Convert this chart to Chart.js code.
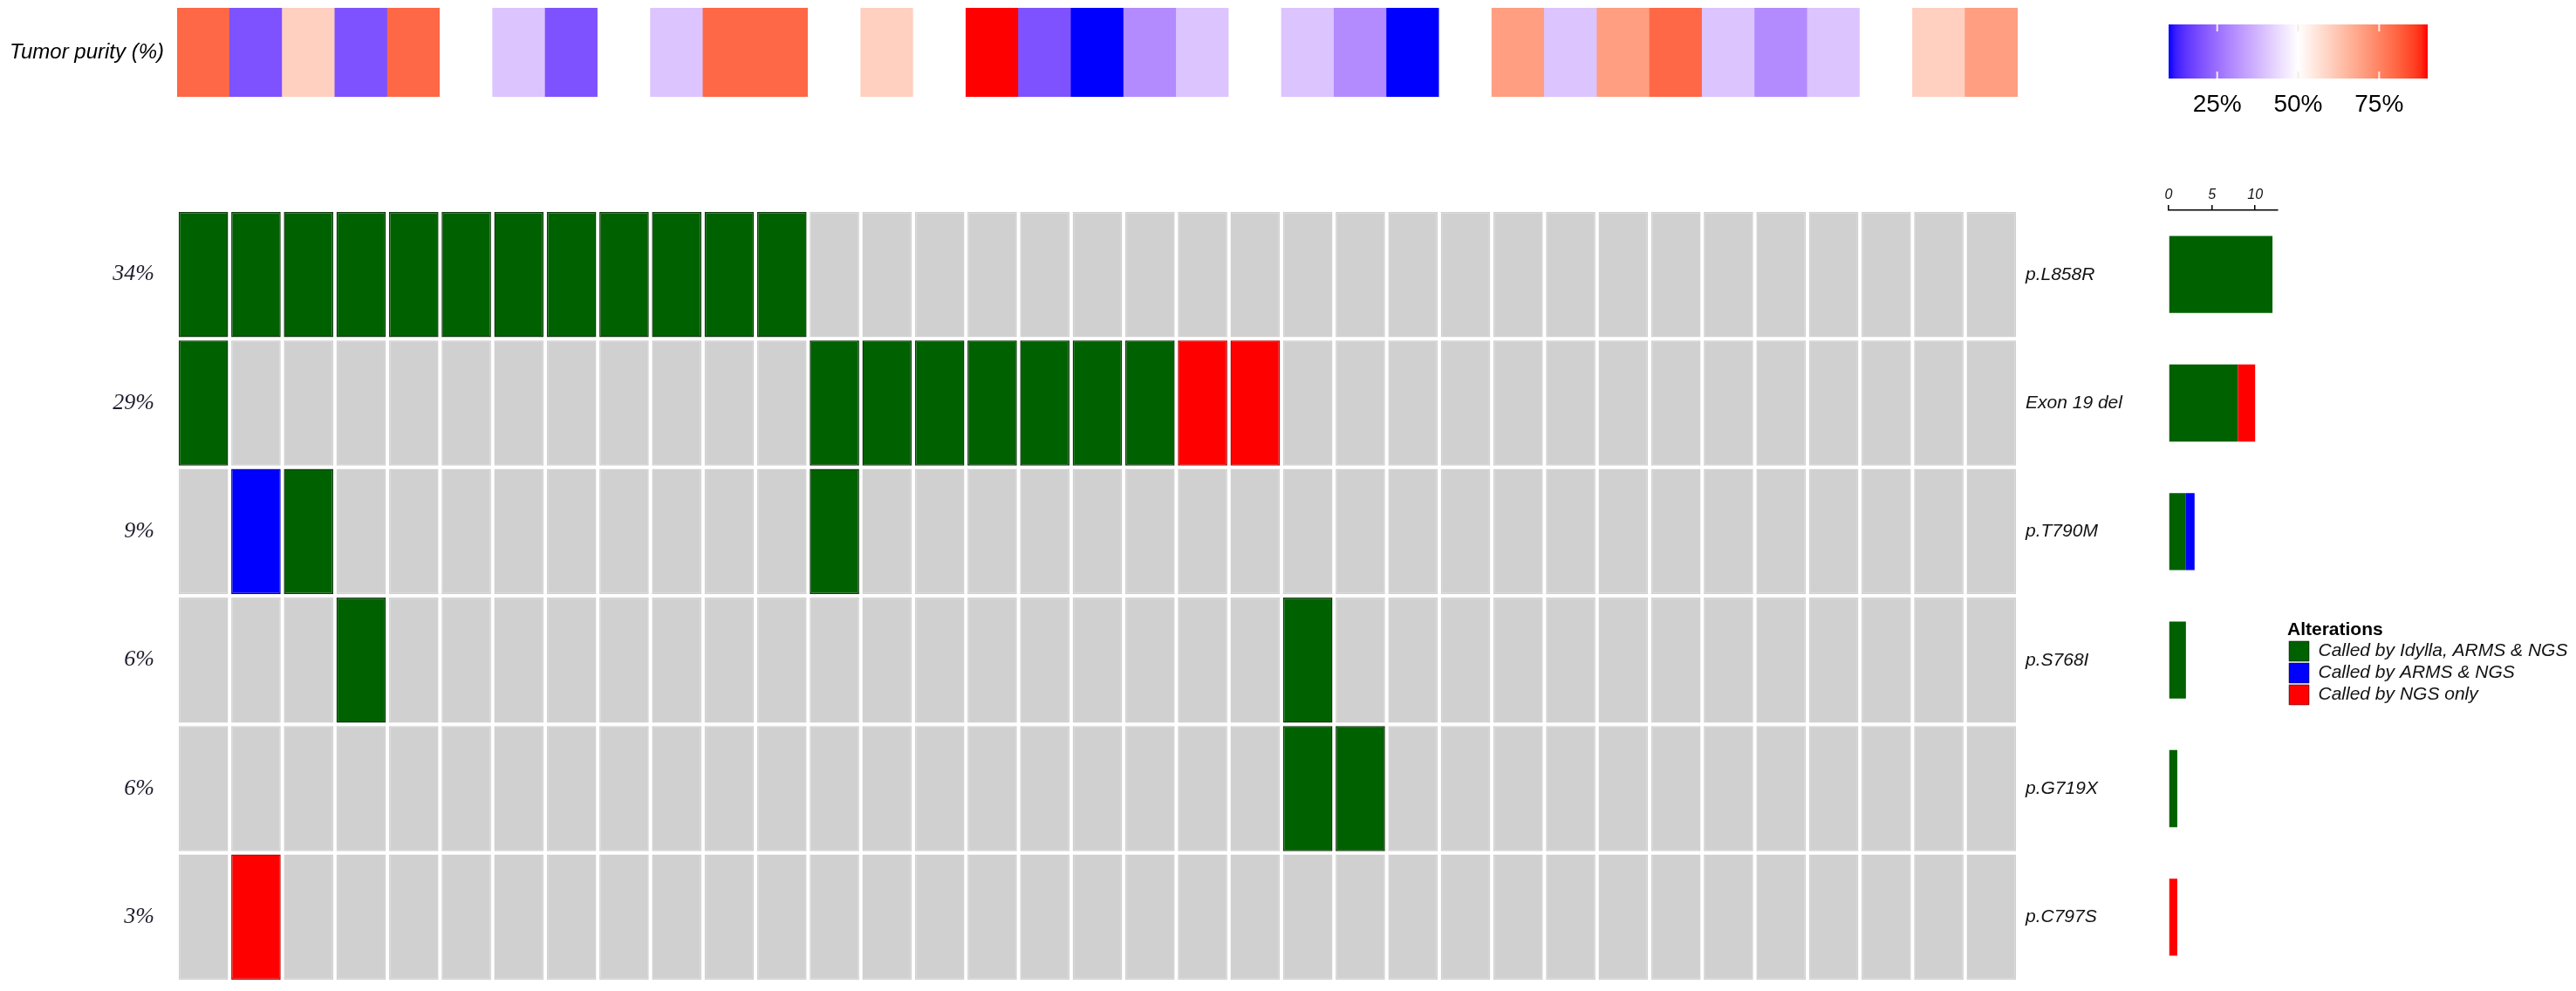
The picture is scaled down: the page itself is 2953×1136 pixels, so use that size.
<!DOCTYPE html>
<html>
<head>
<meta charset="utf-8">
<script src="https://cdn.jsdelivr.net/npm/chart.js@4.4.1/dist/chart.umd.min.js"></script>
<style>
  body { margin: 0; background: #fff; width: 2953px; height: 1136px; position: relative; overflow: hidden; }
  canvas { position: absolute; }
</style>
</head>
<body>
<canvas id="purityChart" width="2313" height="120" style="left:0px;top:0px"></canvas>
<canvas id="oncoChart" width="2470" height="904" style="left:0px;top:231px"></canvas>
<canvas id="countChart" width="170" height="925" style="left:2460px;top:200px"></canvas>
<canvas id="scaleChart" width="400" height="160" style="left:2440px;top:0px"></canvas>
<canvas id="legendChart" width="331" height="140" style="left:2622px;top:712px"></canvas>
<script>
// samples (columns), 35 patients
const samples = ['S1','S2','S3','S4','S5','S6','S7','S8','S9','S10','S11','S12','S13','S14','S15','S16','S17','S18',
                 'S19','S20','S21','S22','S23','S24','S25','S26','S27','S28','S29','S30','S31','S32','S33','S34','S35'];

// tumor purity (%) per sample
const purity = [80, 20, 60, 20, 80, 50, 40, 20, 50, 40, 80, 80, 50, 60, 50, 90, 20, 10,
                30, 40, 50, 40, 30, 10, 50, 70, 40, 70, 80, 40, 30, 40, 50, 60, 70];

const genes = ['p.L858R', 'Exon 19 del', 'p.T790M', 'p.S768I', 'p.G719X', 'p.C797S'];
const mutationFreq = ['34%', '29%', '9%', '6%', '6%', '3%'];

// 0 = not called, 1 = Idylla+ARMS+NGS, 2 = ARMS+NGS, 3 = NGS only
const callsL858R = [1,1,1,1,1,1,1,1,1,1,1,1,0,0,0,0,0,0,0,0,0,0,0,0,0,0,0,0,0,0,0,0,0,0,0];
const callsExon19 = [1,0,0,0,0,0,0,0,0,0,0,0,1,1,1,1,1,1,1,3,3,0,0,0,0,0,0,0,0,0,0,0,0,0,0];
const callsT790M = [0,2,1,0,0,0,0,0,0,0,0,0,1,0,0,0,0,0,0,0,0,0,0,0,0,0,0,0,0,0,0,0,0,0,0];
const callsS768I = [0,0,0,1,0,0,0,0,0,0,0,0,0,0,0,0,0,0,0,0,0,1,0,0,0,0,0,0,0,0,0,0,0,0,0];
const callsG719X = [0,0,0,0,0,0,0,0,0,0,0,0,0,0,0,0,0,0,0,0,0,1,1,0,0,0,0,0,0,0,0,0,0,0,0];
const callsC797S = [0,3,0,0,0,0,0,0,0,0,0,0,0,0,0,0,0,0,0,0,0,0,0,0,0,0,0,0,0,0,0,0,0,0,0];
const calls = [callsL858R, callsExon19, callsT790M, callsS768I, callsG719X, callsC797S];

// right-hand bar counts
const countIdylla = [12, 8, 2, 2, 1, 0];
const countArms = [0, 0, 1, 0, 0, 0];
const countNgs = [0, 2, 0, 0, 0, 1];
const countTicks = [0, 5, 10];

const purityTicks = [25, 50, 75];
const alterationTypes = ['Called by Idylla, ARMS & NGS', 'Called by ARMS & NGS', 'Called by NGS only'];

const statusColors = ['#D0D0D0', '#006100', '#0000FF', '#FF0000'];
const statusBorders = ['#D0D0D0', '#0c3a0c', '#0000b0', '#c00000'];

Chart.defaults.font.family = "'Liberation Sans', Arial, sans-serif";
Chart.defaults.color = '#000';

// blue - white - red ramp, interpolated in Lab like colorRamp2
function toLinear(c) { c /= 255; return c <= 0.04045 ? c / 12.92 : Math.pow((c + 0.055) / 1.055, 2.4); }
function toSrgb(c) {
  c = c <= 0.0031308 ? 12.92 * c : 1.055 * Math.pow(c, 1 / 2.4) - 0.055;
  return Math.round(Math.min(1, Math.max(0, c)) * 255);
}
function rgbToLab(rgb) {
  const [r, g, b] = rgb.map(toLinear);
  const x = (0.4124 * r + 0.3576 * g + 0.1805 * b) / 0.95047;
  const y = 0.2126 * r + 0.7152 * g + 0.0722 * b;
  const z = (0.0193 * r + 0.1192 * g + 0.9505 * b) / 1.08883;
  const f = t => t > 0.008856 ? Math.cbrt(t) : 7.787 * t + 16 / 116;
  return [116 * f(y) - 16, 500 * (f(x) - f(y)), 200 * (f(y) - f(z))];
}
function labToRgb(lab) {
  const fy = (lab[0] + 16) / 116, fx = fy + lab[1] / 500, fz = fy - lab[2] / 200;
  const inv = t => t > 0.206893 ? t * t * t : (t - 16 / 116) / 7.787;
  const x = inv(fx) * 0.95047, y = inv(fy), z = inv(fz) * 1.08883;
  const r = 3.2406 * x - 1.5372 * y - 0.4986 * z;
  const g = -0.9689 * x + 1.8758 * y + 0.0415 * z;
  const b = 0.0557 * x - 0.2040 * y + 1.0570 * z;
  return 'rgb(' + [r, g, b].map(toSrgb).join(',') + ')';
}
const rampBreaks = [10, 50, 90];
const rampLab = [[0, 0, 255], [255, 255, 255], [255, 0, 0]].map(rgbToLab);
function purityColor(v) {
  v = Math.min(90, Math.max(10, v));
  const i = v <= 50 ? 0 : 1;
  const t = (v - rampBreaks[i]) / (rampBreaks[i + 1] - rampBreaks[i]);
  const a = rampLab[i], b = rampLab[i + 1];
  return labToRgb([0, 1, 2].map(k => a[k] + (b[k] - a[k]) * t));
}

// keep side labels from shrinking the plot area
function fixWidth(w) {
  return s => { s.width = w; s.paddingTop = 0; s.paddingBottom = 0; };
}

// top annotation: tumor purity
new Chart(document.getElementById('purityChart'), {
  type: 'bar',
  data: {
    labels: samples,
    datasets: [{
      data: purity.map(() => 1),
      backgroundColor: purity.map(purityColor),
      barPercentage: 1,
      categoryPercentage: 1,
      borderWidth: 0
    }]
  },
  options: {
    responsive: false,
    animation: false,
    layout: { padding: { top: 9, bottom: 9 } },
    plugins: { legend: { display: false }, tooltip: { enabled: false } },
    scales: {
      x: { display: false },
      y: {
        min: 0, max: 1,
        afterBuildTicks: s => { s.ticks = [{ value: 0.5 }]; },
        afterFit: fixWidth(203),
        grid: { display: false, drawTicks: false },
        border: { display: false },
        ticks: { padding: 15, callback: () => 'Tumor purity (%)', font: { style: 'italic', size: 24 }, color: '#000' }
      }
    }
  }
});

// main oncoprint grid
const oncoDatasets = calls.map((row, r) => ({
  label: genes[r],
  data: row.map(() => [r - 0.487, r + 0.487]),
  backgroundColor: row.map(s => statusColors[s]),
  borderColor: row.map(s => statusBorders[s]),
  borderWidth: 1.5,
  borderSkipped: false,
  grouped: false,
  barPercentage: 0.94,
  categoryPercentage: 1
}));

new Chart(document.getElementById('oncoChart'), {
  type: 'bar',
  data: { labels: samples, datasets: oncoDatasets },
  options: {
    responsive: false,
    animation: false,
    layout: { padding: { top: 10, bottom: 10 } },
    plugins: { legend: { display: false }, tooltip: { enabled: false } },
    scales: {
      x: { display: false },
      y: {
        min: -0.5, max: 5.5, reverse: true, position: 'left',
        afterBuildTicks: s => { s.ticks = genes.map((g, i) => ({ value: i })); },
        afterFit: fixWidth(203),
        grid: { display: false, drawTicks: false },
        border: { display: false },
        ticks: {
          padding: 26,
          callback: v => mutationFreq[v],
          font: { family: "'Liberation Serif', 'Times New Roman', serif", style: 'italic', size: 26 },
          color: '#1c1c2c'
        }
      },
      y2: {
        axis: 'y', min: -0.5, max: 5.5, reverse: true, position: 'right',
        afterBuildTicks: s => { s.ticks = genes.map((g, i) => ({ value: i })); },
        afterFit: fixWidth(157),
        grid: { display: false, drawTicks: false },
        border: { display: false },
        ticks: { padding: 9, callback: v => genes[v], font: { style: 'italic', size: 21 }, color: '#111' }
      }
    }
  }
});

// right bar plot of counts
new Chart(document.getElementById('countChart'), {
  type: 'bar',
  data: {
    labels: genes,
    datasets: [
      { label: alterationTypes[0], data: countIdylla, backgroundColor: statusColors[1] },
      { label: alterationTypes[1], data: countArms, backgroundColor: statusColors[2] },
      { label: alterationTypes[2], data: countNgs, backgroundColor: statusColors[3] }
    ]
  },
  options: {
    indexAxis: 'y',
    responsive: false,
    animation: false,
    layout: { padding: { left: 26, right: 19 } },
    datasets: { bar: { barPercentage: 0.6, categoryPercentage: 1, borderWidth: 0 } },
    plugins: { legend: { display: false }, tooltip: { enabled: false } },
    scales: {
      y: { stacked: true, display: false },
      x: {
        stacked: true, position: 'top', min: 0, max: 12.6,
        afterBuildTicks: s => { s.ticks = countTicks.map(v => ({ value: v })); },
        afterFit: s => { s.height = 41; },
        grid: { drawOnChartArea: false, tickLength: 6, color: '#000', lineWidth: 1.5 },
        border: { display: true, color: '#000', width: 1.5 },
        ticks: { padding: 2, maxRotation: 0, font: { style: 'italic', size: 16 }, color: '#111' }
      }
    }
  }
});

// colour key for tumor purity
const keyMarks = {
  id: 'keyMarks',
  afterDatasetsDraw(chart) {
    const { ctx, chartArea } = chart;
    const x = chart.scales.x;
    ctx.save();
    ctx.strokeStyle = '#f3ebdf';
    ctx.lineWidth = 2;
    purityTicks.forEach(v => {
      const px = x.getPixelForValue(v);
      ctx.beginPath();
      ctx.moveTo(px, chartArea.top); ctx.lineTo(px, chartArea.top + 8);
      ctx.moveTo(px, chartArea.bottom - 8); ctx.lineTo(px, chartArea.bottom);
      ctx.stroke();
    });
    ctx.restore();
  }
};

new Chart(document.getElementById('scaleChart'), {
  type: 'bar',
  data: {
    labels: ['purity'],
    datasets: [{
      data: [[rampBreaks[0], rampBreaks[2]]],
      barPercentage: 1,
      categoryPercentage: 1,
      borderWidth: 0,
      borderSkipped: false,
      backgroundColor: ctx => {
        const chart = ctx.chart;
        if (!chart.chartArea) return '#fff';
        const x = chart.scales.x;
        const x0 = x.getPixelForValue(rampBreaks[0]), x1 = x.getPixelForValue(rampBreaks[2]);
        const grad = chart.ctx.createLinearGradient(x0, 0, x1, 0);
        for (let v = rampBreaks[0]; v <= rampBreaks[2]; v += 2) {
          grad.addColorStop((v - rampBreaks[0]) / (rampBreaks[2] - rampBreaks[0]), purityColor(v));
        }
        return grad;
      }
    }]
  },
  options: {
    indexAxis: 'y',
    responsive: false,
    animation: false,
    layout: { padding: { left: 46, right: 57, top: 28 } },
    plugins: { legend: { display: false }, tooltip: { enabled: false } },
    scales: {
      y: { display: false },
      x: {
        min: rampBreaks[0], max: rampBreaks[2],
        afterBuildTicks: s => { s.ticks = purityTicks.map(v => ({ value: v })); },
        afterFit: s => { s.height = 70; },
        grid: { display: false, drawTicks: false },
        border: { display: false },
        ticks: { padding: 13, maxRotation: 0, callback: v => v + '%', font: { size: 28 }, color: '#000' }
      }
    }
  },
  plugins: [keyMarks]
});

// alterations legend
new Chart(document.getElementById('legendChart'), {
  type: 'bar',
  data: {
    labels: [],
    datasets: alterationTypes.map((t, i) => ({
      label: t,
      data: [],
      backgroundColor: statusColors[i + 1],
      borderColor: 'rgba(0,0,0,0.45)',
      borderWidth: 1
    }))
  },
  options: {
    responsive: false,
    animation: false,
    scales: { x: { display: false }, y: { display: false } },
    plugins: {
      tooltip: { enabled: false },
      legend: {
        position: 'top',
        align: 'start',
        maxHeight: 300,
        title: {
          display: true,
          text: 'Alterations',
          position: 'start',
          color: '#000',
          font: { weight: 'bold', size: 21, lineHeight: 1 },
          padding: { top: 0, bottom: 0 }
        },
        labels: { boxWidth: 23, boxHeight: 23, padding: 2, color: '#111', font: { style: 'italic', size: 21 } }
      }
    }
  }
});
</script>
</body>
</html>
